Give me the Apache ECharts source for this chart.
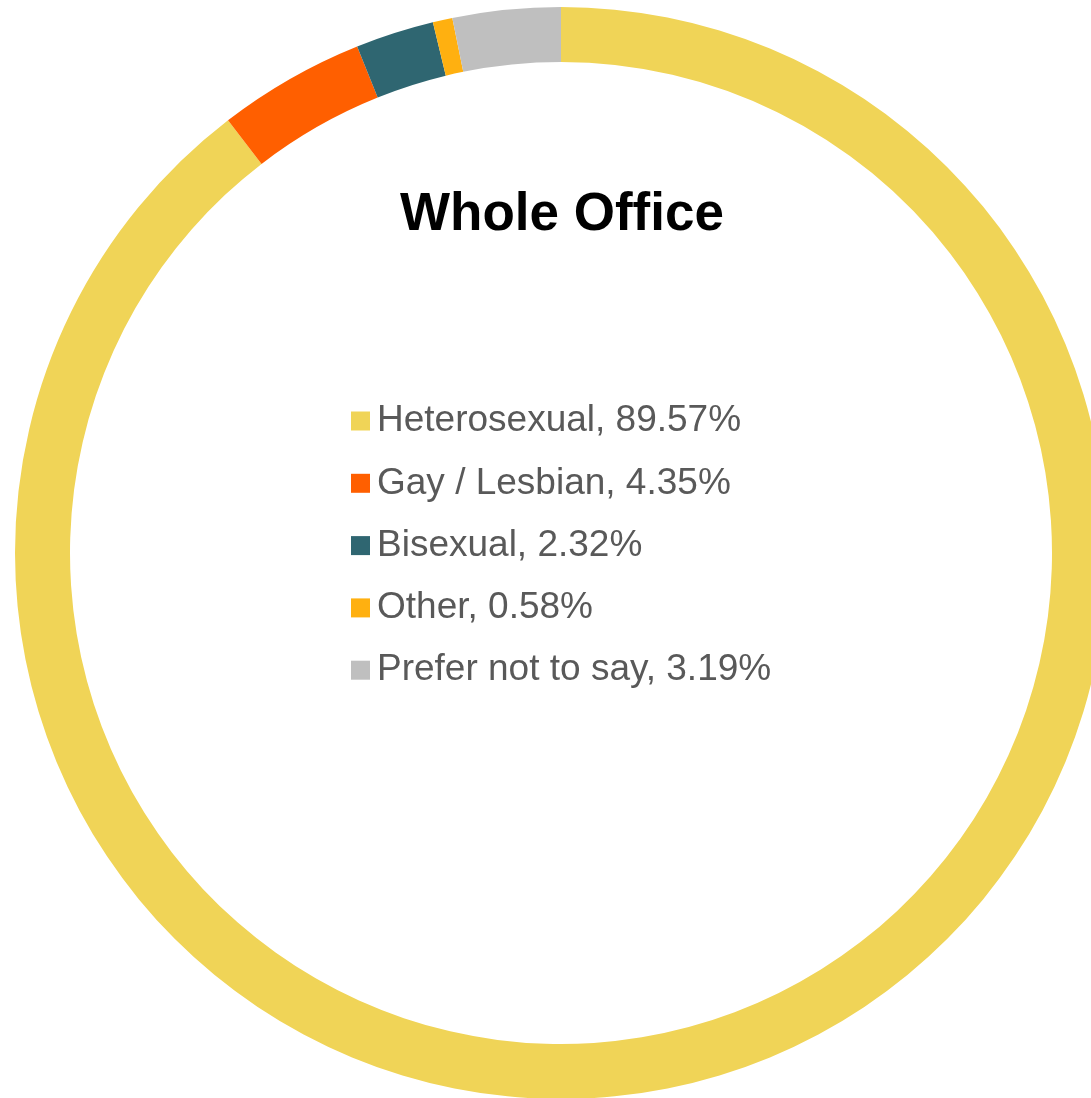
<!DOCTYPE html>
<html>
<head>
<meta charset="utf-8">
<title>Whole Office</title>
<script src="https://cdn.jsdelivr.net/npm/echarts@6/dist/echarts.min.js"></script>
<style>
  html, body { margin: 0; padding: 0; background: #fff; }
  #chart { width: 1091px; height: 1098px; }
</style>
</head>
<body>
<div id="chart"></div>
<script>
// 数据
var categories = ['Heterosexual', 'Gay / Lesbian', 'Bisexual', 'Other', 'Prefer not to say'];
var shares = [89.57, 4.35, 2.32, 0.58, 3.19];
var colors = ['#F0D457', '#FF5F00', '#2F6671', '#FFB010', '#BFBFBF'];

var myChart = echarts.init(document.getElementById('chart'));

var pieData = categories.map(function (name, i) {
    return { name: name, value: shares[i], itemStyle: { color: colors[i] } };
});

var option = {
    animation: false,
    title: {
        text: 'Whole Office',
        left: 395,
        top: 184,
        textStyle: {
            fontFamily: 'Liberation Sans',
            fontSize: 53,
            fontWeight: 'bold',
            color: '#000'
        }
    },
    legend: {
        orient: 'vertical',
        left: 351,
        top: 401,
        padding: 0,
        itemWidth: 19,
        itemHeight: 19,
        itemGap: 22.3,
        icon: 'rect',
        data: categories,
        formatter: function (name) {
            var i = categories.indexOf(name);
            return name + ', ' + shares[i].toFixed(2) + '%';
        },
        textStyle: {
            fontFamily: 'Liberation Sans',
            fontSize: 37,
            lineHeight: 40,
            color: '#595959',
            padding: [0, 0, 0, 2]
        }
    },
    series: [
        {
            type: 'pie',
            center: [561, 553],
            radius: [491, 546],
            startAngle: 90,
            clockwise: true,
            silent: true,
            label: { show: false },
            labelLine: { show: false },
            itemStyle: { borderWidth: 0 },
            data: pieData
        }
    ]
};
myChart.setOption(option);
</script>
</body>
</html>
